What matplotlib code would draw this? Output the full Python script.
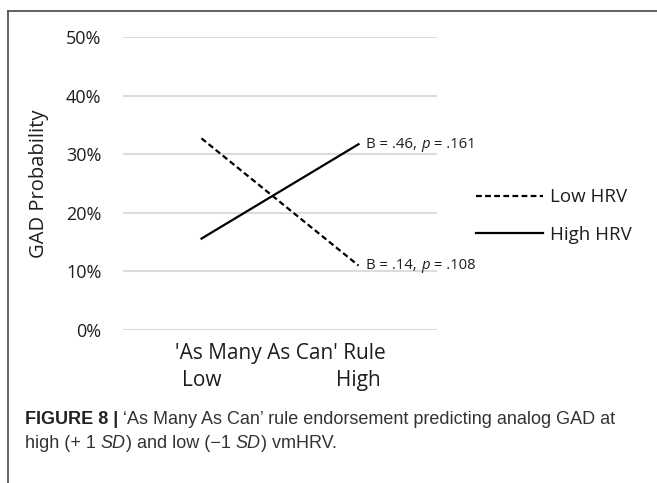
import matplotlib
matplotlib.use("Agg")
import matplotlib.pyplot as plt
from matplotlib.lines import Line2D

# ---- data ----
categories = ["Low", "High"]
low_hrv = [0.327, 0.110]
high_hrv = [0.156, 0.317]
series_names = ["Low HRV", "High HRV"]
annot_low = ("B = .14, ", "p", " = .108")
annot_high = ("B = .46, ", "p", " = .161")
y_ticks = [0, 0.1, 0.2, 0.3, 0.4, 0.5]
y_ticklabels = ["0%", "10%", "20%", "30%", "40%", "50%"]
x_title = "'As Many As Can' Rule"
y_title = "GAD Probability"

W, H = 657, 483
DPI = 100
plt.rcParams['font.family'] = ['Open Sans', 'DejaVu Sans']
TXT = '#1e1e1e'

fig = plt.figure(figsize=(W / DPI, H / DPI), dpi=DPI)
fig.patch.set_facecolor('white')

def fx(px):
    return px / W

def fy(py):
    return 1 - py / H

AX_L, AX_R = 123, 437
ax = fig.add_axes([fx(AX_L), fy(330), fx(AX_R) - fx(AX_L), fy(37) - fy(330)])
ax.set_xlim(-0.5, 1.5)
ax.set_ylim(0, 0.5)
for s in ax.spines.values():
    s.set_visible(False)
ax.set_yticks(y_ticks)
ax.set_yticklabels(y_ticklabels, fontsize=13, color=TXT)
ax.yaxis.grid(True, color='#dcdcdc', linewidth=1.5)
ax.set_axisbelow(True)
ax.tick_params(axis='y', length=0, pad=15.5)
ax.set_xticks([0, 1])
ax.set_xticklabels(categories, fontsize=15, color=TXT)
ax.tick_params(axis='x', length=0, pad=28.5)

xs = list(range(len(categories)))
l1, = ax.plot(xs, low_hrv, color='black', linewidth=1.6, linestyle=(0, (2.6, 1.5)),
              label=series_names[0])
l2, = ax.plot(xs, high_hrv, color='black', linewidth=1.6, label=series_names[1])

ax.set_ylabel(y_title, fontsize=14.5, color=TXT)
ax.yaxis.set_label_coords((49 - AX_L) / (AX_R - AX_L), 0.5)

ax.text(0.5, -0.08, x_title, transform=ax.transAxes, ha='center', va='center',
        fontsize=15, color=TXT)

fig.canvas.draw()
renderer = fig.canvas.get_renderer()

def seq_text(x_px, y_px, pieces, size, **kw):
    x = x_px
    for txt, style, weight, color in pieces:
        t = fig.text(fx(x), fy(y_px), txt, ha='left', va='center', fontsize=size,
                     fontstyle=style, fontweight=weight, color=color, **kw)
        bb = t.get_window_extent(renderer=renderer)
        x += bb.width
    return x

for vals, ann in ((high_hrv, annot_high), (low_hrv, annot_low)):
    disp = ax.transData.transform((1, vals[1]))
    xpx = disp[0] + 8
    ypx = H - disp[1]
    seq_text(xpx, ypx, [(ann[0], 'normal', 'normal', TXT),
                        (ann[1], 'italic', 'normal', TXT),
                        (ann[2], 'normal', 'normal', TXT)], 10.7)

leg = fig.legend(handles=[l1, l2], labels=series_names, loc='center left',
                 bbox_to_anchor=(fx(459), fy(216)), frameon=False, fontsize=13.5,
                 handlelength=3.6, labelspacing=1.05, handletextpad=0.35)
for t in leg.get_texts():
    t.set_color(TXT)

# frame lines
fig.add_artist(Line2D([fx(8), 1], [fy(11), fy(11)], color='#555555', linewidth=1.3))
fig.add_artist(Line2D([fx(8), fx(8)], [fy(11), 0], color='#555555', linewidth=1.3))

# caption
cap_font = ['Liberation Sans', 'DejaVu Sans']
CAP = '#333333'
seq_text(25, 420, [("FIGURE 8 | ", 'normal', 'bold', '#222222'),
                   ("\u2018As Many As Can\u2019 rule endorsement predicting analog GAD at",
                    'normal', 'normal', CAP)], 13, family=cap_font)
seq_text(25, 444, [("high (+ 1 ", 'normal', 'normal', CAP),
                   ("SD", 'italic', 'normal', CAP),
                   (") and low (\u22121 ", 'normal', 'normal', CAP),
                   ("SD", 'italic', 'normal', CAP),
                   (") vmHRV.", 'normal', 'normal', CAP)], 13, family=cap_font)

fig.savefig("out.png", dpi=DPI, facecolor='white')
